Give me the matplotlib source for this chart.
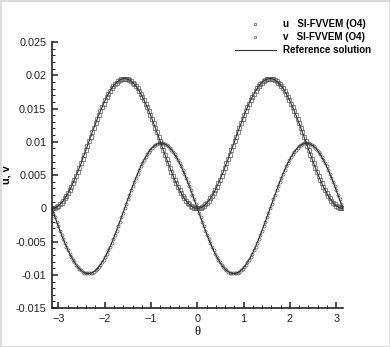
import numpy as np
import matplotlib
matplotlib.use("Agg")
import matplotlib.pyplot as plt
from matplotlib.ticker import MultipleLocator

# -----------------------------------------------------------------------------
# Data read off the figure (sampled every 2 degrees from -pi to pi)
# -----------------------------------------------------------------------------
U_VALUES = [
    0.00000, 0.00002, 0.00009, 0.00021, 0.00038, 0.00059, 0.00084, 0.00114, 0.00148, 0.00186,
    0.00228, 0.00274, 0.00323, 0.00375, 0.00430, 0.00488, 0.00548, 0.00610, 0.00674, 0.00739,
    0.00806, 0.00873, 0.00941, 0.01009, 0.01077, 0.01144, 0.01211, 0.01276, 0.01340, 0.01402,
    0.01462, 0.01520, 0.01575, 0.01627, 0.01676, 0.01722, 0.01764, 0.01802, 0.01836, 0.01866,
    0.01891, 0.01912, 0.01929, 0.01941, 0.01948, 0.01950, 0.01948, 0.01941, 0.01929, 0.01912,
    0.01891, 0.01866, 0.01836, 0.01802, 0.01764, 0.01722, 0.01676, 0.01627, 0.01575, 0.01520,
    0.01462, 0.01402, 0.01340, 0.01276, 0.01211, 0.01144, 0.01077, 0.01009, 0.00941, 0.00873,
    0.00806, 0.00739, 0.00674, 0.00610, 0.00548, 0.00488, 0.00430, 0.00375, 0.00323, 0.00274,
    0.00228, 0.00186, 0.00148, 0.00114, 0.00084, 0.00059, 0.00038, 0.00021, 0.00009, 0.00002,
    0.00000, 0.00002, 0.00009, 0.00021, 0.00038, 0.00059, 0.00084, 0.00114, 0.00148, 0.00186,
    0.00228, 0.00274, 0.00323, 0.00375, 0.00430, 0.00488, 0.00548, 0.00610, 0.00674, 0.00739,
    0.00806, 0.00873, 0.00941, 0.01009, 0.01077, 0.01144, 0.01211, 0.01276, 0.01340, 0.01402,
    0.01462, 0.01520, 0.01575, 0.01627, 0.01676, 0.01722, 0.01764, 0.01802, 0.01836, 0.01866,
    0.01891, 0.01912, 0.01929, 0.01941, 0.01948, 0.01950, 0.01948, 0.01941, 0.01929, 0.01912,
    0.01891, 0.01866, 0.01836, 0.01802, 0.01764, 0.01722, 0.01676, 0.01627, 0.01575, 0.01520,
    0.01462, 0.01402, 0.01340, 0.01276, 0.01211, 0.01144, 0.01077, 0.01009, 0.00941, 0.00873,
    0.00806, 0.00739, 0.00674, 0.00610, 0.00548, 0.00488, 0.00430, 0.00375, 0.00323, 0.00274,
    0.00228, 0.00186, 0.00148, 0.00114, 0.00084, 0.00059, 0.00038, 0.00021, 0.00009, 0.00002,
    0.00000,
]

V_VALUES = [
    0.00000, -0.00068, -0.00136, -0.00204, -0.00270, -0.00335, -0.00399, -0.00460, -0.00519, -0.00576,
    -0.00630, -0.00681, -0.00728, -0.00772, -0.00812, -0.00849, -0.00881, -0.00909, -0.00932, -0.00951,
    -0.00965, -0.00975, -0.00979, -0.00979, -0.00975, -0.00965, -0.00951, -0.00932, -0.00909, -0.00881,
    -0.00849, -0.00812, -0.00772, -0.00728, -0.00681, -0.00630, -0.00576, -0.00519, -0.00460, -0.00399,
    -0.00335, -0.00270, -0.00204, -0.00136, -0.00068, 0.00000, 0.00068, 0.00136, 0.00204, 0.00270,
    0.00335, 0.00399, 0.00460, 0.00519, 0.00576, 0.00630, 0.00681, 0.00728, 0.00772, 0.00812,
    0.00849, 0.00881, 0.00909, 0.00932, 0.00951, 0.00965, 0.00975, 0.00979, 0.00979, 0.00975,
    0.00965, 0.00951, 0.00932, 0.00909, 0.00881, 0.00849, 0.00812, 0.00772, 0.00728, 0.00681,
    0.00630, 0.00576, 0.00519, 0.00460, 0.00399, 0.00335, 0.00270, 0.00204, 0.00136, 0.00068,
    0.00000, -0.00068, -0.00136, -0.00204, -0.00270, -0.00335, -0.00399, -0.00460, -0.00519, -0.00576,
    -0.00630, -0.00681, -0.00728, -0.00772, -0.00812, -0.00849, -0.00881, -0.00909, -0.00932, -0.00951,
    -0.00965, -0.00975, -0.00979, -0.00979, -0.00975, -0.00965, -0.00951, -0.00932, -0.00909, -0.00881,
    -0.00849, -0.00812, -0.00772, -0.00728, -0.00681, -0.00630, -0.00576, -0.00519, -0.00460, -0.00399,
    -0.00335, -0.00270, -0.00204, -0.00136, -0.00068, 0.00000, 0.00068, 0.00136, 0.00204, 0.00270,
    0.00335, 0.00399, 0.00460, 0.00519, 0.00576, 0.00630, 0.00681, 0.00728, 0.00772, 0.00812,
    0.00849, 0.00881, 0.00909, 0.00932, 0.00951, 0.00965, 0.00975, 0.00979, 0.00979, 0.00975,
    0.00965, 0.00951, 0.00932, 0.00909, 0.00881, 0.00849, 0.00812, 0.00772, 0.00728, 0.00681,
    0.00630, 0.00576, 0.00519, 0.00460, 0.00399, 0.00335, 0.00270, 0.00204, 0.00136, 0.00068,
    0.00000,
]

THETA = np.linspace(-np.pi, np.pi, len(U_VALUES))

X_TICKS = [-3, -2, -1, 0, 1, 2, 3]
Y_TICKS = [-0.015, -0.01, -0.005, 0, 0.005, 0.01, 0.015, 0.02, 0.025]
Y_TICK_LABELS = ["-0.015", "-0.01", "-0.005", "0", "0.005", "0.01", "0.015", "0.02", "0.025"]

LABEL_U = "u   SI-FVVEM (O4)"
LABEL_V = "v   SI-FVVEM (O4)"
LABEL_REF = "Reference solution"

# -----------------------------------------------------------------------------
# Figure
# -----------------------------------------------------------------------------
plt.rcParams["font.family"] = ["Liberation Sans", "DejaVu Sans"]

fig = plt.figure(figsize=(3.90, 3.47), dpi=100)
fig.patch.set_edgecolor("#dcdcdc")
fig.patch.set_linewidth(2)
ax = fig.add_axes([0.133, 0.112, 0.746, 0.767])

mk = dict(linestyle="none", markersize=2.2, markerfacecolor="none",
          markeredgewidth=0.5, color="#5a5a5a")
ax.plot(THETA, U_VALUES, marker="s", label=LABEL_U, **mk)
ax.plot(THETA, V_VALUES, marker="o", label=LABEL_V, **mk)
ax.plot(THETA, U_VALUES, color="#333333", linewidth=0.8, label=LABEL_REF)
ax.plot(THETA, V_VALUES, color="#333333", linewidth=0.8)

ax.set_xlim(-np.pi, np.pi)
ax.set_ylim(-0.015, 0.025)
ax.set_xticks(X_TICKS)
ax.set_yticks(Y_TICKS)
ax.set_yticklabels(Y_TICK_LABELS)
ax.xaxis.set_minor_locator(MultipleLocator(0.2))
ax.yaxis.set_minor_locator(MultipleLocator(0.001))

for side in ("top", "right"):
    ax.spines[side].set_visible(False)
for side in ("left", "bottom"):
    ax.spines[side].set_linewidth(1.2)
    ax.spines[side].set_color("#222222")

ax.tick_params(which="major", direction="in", length=4, width=1.1,
               labelsize=7.8, colors="#222222", pad=4)
ax.tick_params(which="minor", direction="in", length=2.2, width=0.7,
               colors="#222222")

ax.set_xlabel("θ", family=["Liberation Serif", "DejaVu Serif"], fontsize=9, labelpad=2)
ax.set_ylabel("u, v", fontsize=7.8, fontweight="bold", labelpad=3)

leg = fig.legend(loc="upper right", bbox_to_anchor=(0.975, 0.97), frameon=False,
                 fontsize=7, handlelength=4.2, handletextpad=0.8,
                 labelspacing=0.3, numpoints=1, markerscale=0.8)
for t in leg.get_texts():
    t.set_fontweight("bold")

fig.savefig("out.png", dpi=100)
